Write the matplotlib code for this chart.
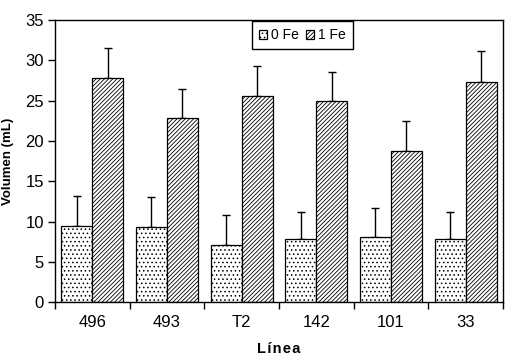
import numpy as np
import matplotlib
matplotlib.use("Agg")
import matplotlib.pyplot as plt

categories = ["496", "493", "T2", "142", "101", "33"]
fe0 = [9.5, 9.3, 7.1, 7.8, 8.1, 7.8]
fe0_err = [3.7, 3.8, 3.7, 3.4, 3.6, 3.4]
fe1 = [27.8, 22.9, 25.6, 24.9, 18.8, 27.3]
fe1_err = [3.7, 3.6, 3.7, 3.6, 3.7, 3.8]
series_names = ["0 Fe", "1 Fe"]
yticks = [0, 5, 10, 15, 20, 25, 30, 35]

plt.rcParams['font.family'] = ['Liberation Sans', 'DejaVu Sans']
plt.rcParams['hatch.linewidth'] = 0.6

fig = plt.figure(figsize=(5.1, 3.61), dpi=100)
ax = fig.add_axes([0.1078, 0.1626, 0.8782, 0.782])

x = np.arange(len(categories))
w = 0.415
lw = 0.9
b0 = ax.bar(x - w / 2, fe0, w, color='white', edgecolor='black', hatch='....',
            linewidth=lw, label=series_names[0], zorder=2)
b1 = ax.bar(x + w / 2, fe1, w, color='white', edgecolor='black', hatch='////////',
            linewidth=lw, label=series_names[1], zorder=2)
ax.errorbar(x - w / 2, fe0, yerr=[np.zeros(len(fe0)), fe0_err], fmt='none',
            ecolor='black', elinewidth=1, capsize=2.9, capthick=1, zorder=1)
ax.errorbar(x + w / 2, fe1, yerr=[np.zeros(len(fe1)), fe1_err], fmt='none',
            ecolor='black', elinewidth=1, capsize=2.9, capthick=1, zorder=1)

ax.set_xlim(-0.5, len(categories) - 0.5)
ax.set_ylim(0, 35)
ax.set_yticks(yticks)
ax.set_yticklabels([str(v) for v in yticks], fontsize=12)
ax.set_xticks(x)
ax.set_xticklabels(categories, fontsize=12)
ax.tick_params(axis='x', which='major', length=0, pad=9)
ax.set_xticks(np.arange(len(categories) + 1) - 0.5, minor=True)
ax.tick_params(axis='x', which='minor', length=5, width=1, direction='out')
ax.tick_params(axis='y', length=5, width=1, direction='out', pad=3)

for s in ax.spines.values():
    s.set_linewidth(1)

ax.set_ylabel("Volumen (mL)", fontsize=9.5, fontweight='bold', labelpad=8)
ax.set_xlabel("L\u200aí\u200an\u200ae\u200aa",
              fontsize=10.5, fontweight='bold', labelpad=9)

leg = ax.legend(loc='upper left', bbox_to_anchor=(0.44, 0.995), ncol=2,
                frameon=True, fancybox=False, edgecolor='black', framealpha=1,
                fontsize=10, handlelength=0.6, handleheight=0.6,
                handletextpad=0.3, columnspacing=0.45, borderpad=0.5,
                borderaxespad=0)
leg.get_frame().set_linewidth(1)

fig.savefig("out.png", dpi=100)
